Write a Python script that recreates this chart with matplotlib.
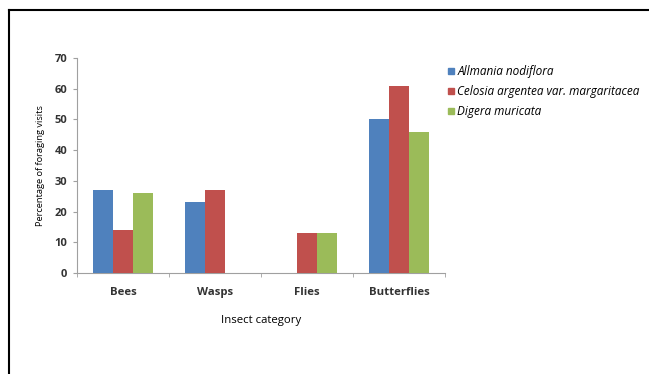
import matplotlib
matplotlib.use("Agg")
import matplotlib.pyplot as plt
import numpy as np
from matplotlib.lines import Line2D

categories = ["Bees", "Wasps", "Flies", "Butterflies"]
series_names = ["Allmania nodiflora", "Celosia argentea var. margaritacea", "Digera muricata"]
allmania = [27, 23, 0, 50]
celosia = [14, 27, 13, 61]
digera = [26, 0, 13, 46]
colors = ["#4F81BD", "#C0504D", "#9BBB59"]
yticks = [0, 10, 20, 30, 40, 50, 60, 70]

plt.rcParams["font.family"] = ["Open Sans", "DejaVu Sans"]

fig = plt.figure(figsize=(6.49, 3.74), dpi=100)
ax = fig.add_axes([0.1186, 0.270, 0.567, 0.575])

x = np.arange(len(categories))
w = 0.217
for i, (vals, c) in enumerate(zip([allmania, celosia, digera], colors)):
    ax.bar(x + (i - 1) * w, vals, width=w, color=c, linewidth=0, zorder=3)

ax.set_xlim(-0.5, len(categories) - 0.5)
ax.set_ylim(0, 70)
ax.set_yticks(yticks)
ax.set_xticks(x)
ax.set_xticklabels(categories, fontsize=8.2, fontweight="bold", color="#333333")
ax.tick_params(axis="x", length=0, pad=10)
ax.set_xticks(np.arange(len(categories) + 1) - 0.5, minor=True)
ax.tick_params(axis="x", which="minor", length=3, color="#a0a0a0", direction="out")
ax.tick_params(axis="y", labelsize=8, length=3, color="#a0a0a0", labelcolor="#333333", pad=4)
for lab in ax.get_yticklabels():
    lab.set_fontweight("bold")

for s in ["top", "right"]:
    ax.spines[s].set_visible(False)
for s in ["left", "bottom"]:
    ax.spines[s].set_color("#a0a0a0")
    ax.spines[s].set_linewidth(0.8)

ax.set_ylabel("Percentage of foraging visits", fontsize=6.7, labelpad=7)
ax.set_xlabel("Insect category", fontsize=8.2, labelpad=12)

handles = [Line2D([], [], marker="s", linestyle="", markersize=5, color=c) for c in colors]
leg = fig.legend(handles, series_names, loc="upper left", bbox_to_anchor=(0.672, 0.855),
                 frameon=False, handletextpad=0.1, labelspacing=0.6,
                 prop={"size": 8.5, "style": "italic"}, handlelength=0.8)

# frame around the picture (left and top only)
fig.add_artist(Line2D([0.0131, 0.0131], [0, 0.9733], color="black", linewidth=1.5,
                      transform=fig.transFigure))
fig.add_artist(Line2D([0.0131, 1.0], [0.9733, 0.9733], color="black", linewidth=1.5,
                      transform=fig.transFigure))

fig.savefig("out.png", dpi=100)
